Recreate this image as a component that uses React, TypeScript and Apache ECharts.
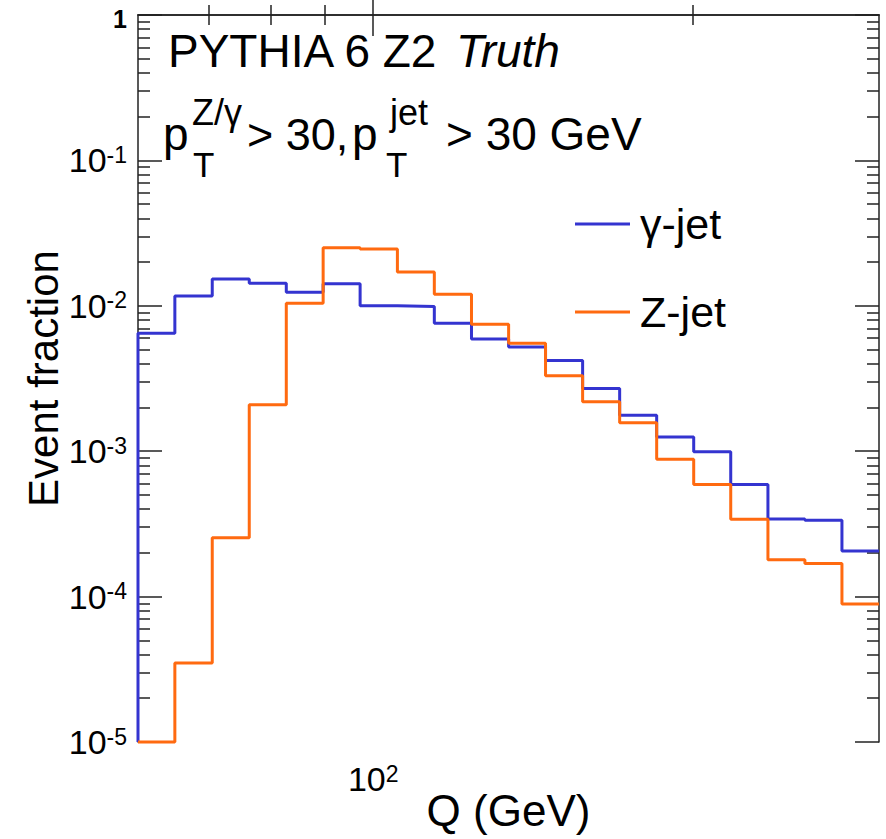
import React, { useEffect, useRef } from "react";
import * as echarts from "echarts";

// Q bin edges (GeV), 20 logarithmic bins
const binEdges = [60, 65.0, 70.5, 76.4, 82.8, 89.7, 97.2, 105.4, 114.2, 123.8, 134.2, 145.4, 157.6, 170.8, 185.1, 200.6, 217.4, 235.7, 255.4, 276.8, 300];

// Event fraction per bin
const gammaJet = [0.00647, 0.0117, 0.0153, 0.0143, 0.0124, 0.0142, 0.0100, 0.0099, 0.0076, 0.0059, 0.0052, 0.0042, 0.0027, 0.00177, 0.00125, 0.00099, 0.00059, 0.000342, 0.000335, 0.000206];
const zJet = [0, 0.000035, 0.000254, 0.00209, 0.0104, 0.0251, 0.0246, 0.0171, 0.0120, 0.00746, 0.00552, 0.0033, 0.00219, 0.00157, 0.00088, 0.00059, 0.00034, 0.000179, 0.000169, 0.000089];

const seriesNames = ["\u03b3-jet", "Z-jet"];
const seriesColors = ["#3434d0", "#ff6a10"];

// Axis ranges and ticks
const xRange = [60, 300];
const xMajorTicks = [100];
const xMinorTicks = [70, 80, 90, 200];
const yExpRange = [-5, 0];
const yMinorMultipliers = [2, 3, 4, 5, 6, 7, 8, 9];

const FONT = "'Liberation Sans', Arial, Helvetica, sans-serif";

const lg = (v: number) => Math.max(Math.log10(v), yExpRange[0]);

function histPoints(values: number[]) {
  const pts: number[][] = [[Math.log10(binEdges[0]), yExpRange[0]]];
  values.forEach((v, i) => pts.push([Math.log10(binEdges[i]), lg(v)]));
  pts.push([Math.log10(binEdges[binEdges.length - 1]), lg(values[values.length - 1])]);
  return pts;
}

export default function App() {
  const ref = useRef<HTMLDivElement>(null);
  useEffect(() => {
    if (!ref.current) return;
    const chart = echarts.init(ref.current, null, { renderer: "svg" });
    const xMin = Math.log10(xRange[0]);
    const xMax = Math.log10(xRange[1]);
    const yMinor: number[] = [];
    for (let e = yExpRange[0]; e < yExpRange[1]; e++) {
      yMinorMultipliers.forEach((k) => yMinor.push(Math.log10(k * Math.pow(10, e))));
    }
    const lineCol = "#222";
    const supRich = {
      b: { fontSize: 34, fontFamily: FONT, color: "#000" },
      s: { fontSize: 23, fontFamily: FONT, color: "#000", verticalAlign: "top" },
      one: { fontSize: 25, fontWeight: "bold", fontFamily: FONT, color: "#000", padding: [8, 0, 0, 0] },
    };
    const baseX = {
      type: "value",
      min: xMin,
      max: xMax,
      splitLine: { show: false },
    };
    const baseY = {
      type: "value",
      min: yExpRange[0],
      max: yExpRange[1],
      interval: 1,
      splitLine: { show: false },
    };
    const xMajor = xMajorTicks.map((v) => Math.log10(v));
    const xMinor = xMinorTicks.map((v) => Math.log10(v));
    const option: any = {
      animation: false,
      backgroundColor: "#fff",
      grid: { left: 138, right: 7, top: 15, bottom: 97, containLabel: false, outerBoundsMode: "none" },
      legend: {
        data: seriesNames,
        orient: "vertical",
        left: 575,
        top: 202,
        padding: 0,
        itemGap: 44,
        icon: "rect",
        itemWidth: 55,
        itemHeight: 3,
        textStyle: { fontSize: 43, fontFamily: FONT, color: "#000", lineHeight: 44, padding: [0, 0, 0, 5] },
      },
      xAxis: [
        {
          ...baseX,
          position: "bottom",
          axisLine: { show: true, lineStyle: { color: lineCol, width: 1.5 } },
          axisTick: { show: true, inside: true, length: 21, customValues: xMajor, lineStyle: { color: lineCol, width: 1.5 } },
          axisLabel: {
            show: true,
            customValues: xMajor,
            margin: 20,
            formatter: (v: number) => `{b|10}{s|${Math.round(v)}}`,
            rich: supRich,
          },
          name: "Q (GeV)",
          nameLocation: "middle",
          nameGap: 46,
          nameMoveOverlap: false,
          nameTextStyle: { fontSize: 44, fontFamily: FONT, color: "#000", verticalAlign: "top" },
        },
        {
          ...baseX,
          position: "bottom",
          axisLine: { show: false },
          axisTick: { show: true, inside: true, length: 10, customValues: xMinor, lineStyle: { color: lineCol, width: 1.5 } },
          axisLabel: { show: false },
        },
        {
          ...baseX,
          position: "top",
          axisLine: { show: true, lineStyle: { color: lineCol, width: 1.5 } },
          axisTick: { show: true, inside: true, length: 21, customValues: xMajor, lineStyle: { color: lineCol, width: 1.5 } },
          axisLabel: { show: false },
        },
        {
          ...baseX,
          position: "top",
          axisLine: { show: false },
          axisTick: { show: true, inside: true, length: 10, customValues: xMinor, lineStyle: { color: lineCol, width: 1.5 } },
          axisLabel: { show: false },
        },
      ],
      yAxis: [
        {
          ...baseY,
          position: "left",
          axisLine: { show: true, lineStyle: { color: lineCol, width: 1.5 } },
          axisTick: { show: true, inside: true, length: 24, lineStyle: { color: lineCol, width: 1.5 } },
          axisLabel: {
            show: true,
            margin: 11,
            fontSize: 32,
            fontFamily: FONT,
            color: "#000",
            formatter: (v: number) => (Math.round(v) === 0 ? "{one|1}" : `{b|10}{s|${Math.round(v)}}`),
            rich: supRich,
          },
          name: "Event fraction",
          nameLocation: "middle",
          nameRotate: 90,
          nameGap: 74,
          nameMoveOverlap: false,
          nameTextStyle: { fontSize: 42, fontFamily: FONT, color: "#000" },
        },
        {
          ...baseY,
          position: "left",
          axisLine: { show: false },
          axisTick: { show: true, inside: true, length: 12, customValues: yMinor, lineStyle: { color: lineCol, width: 1.5 } },
          axisLabel: { show: false },
        },
        {
          ...baseY,
          position: "right",
          axisLine: { show: true, lineStyle: { color: lineCol, width: 1.5 } },
          axisTick: { show: true, inside: true, length: 24, lineStyle: { color: lineCol, width: 1.5 } },
          axisLabel: { show: false },
        },
        {
          ...baseY,
          position: "right",
          axisLine: { show: false },
          axisTick: { show: true, inside: true, length: 12, customValues: yMinor, lineStyle: { color: lineCol, width: 1.5 } },
          axisLabel: { show: false },
        },
      ],
      series: [gammaJet, zJet].map((vals, i) => ({
        name: seriesNames[i],
        type: "line",
        step: "end",
        xAxisIndex: 0,
        yAxisIndex: 0,
        data: histPoints(vals),
        showSymbol: false,
        symbol: "none",
        clip: false,
        color: seriesColors[i],
        lineStyle: { color: seriesColors[i], width: 3 },
        z: 3,
      })),
      graphic: [
        { type: "text", x: 168, y: 51, style: { text: "PYTHIA 6 Z2", fontSize: 46, fontFamily: FONT, fill: "#000", align: "left", verticalAlign: "middle" } },
        { type: "text", x: 456, y: 51, style: { text: "Truth", fontSize: 46, fontStyle: "italic", fontFamily: FONT, fill: "#000", align: "left", verticalAlign: "middle" } },
        { type: "text", x: 163, y: 134, style: { text: "p", fontSize: 46, fontFamily: FONT, fill: "#000", align: "left", verticalAlign: "middle" } },
        { type: "text", x: 192, y: 112, style: { text: "Z/\u03b3", fontSize: 36, fontFamily: FONT, fill: "#000", align: "left", verticalAlign: "middle" } },
        { type: "text", x: 193, y: 164, style: { text: "T", fontSize: 35, fontFamily: FONT, fill: "#000", align: "left", verticalAlign: "middle" } },
        { type: "text", x: 247, y: 134, style: { text: "> 30,", fontSize: 45, fontFamily: FONT, fill: "#000", align: "left", verticalAlign: "middle" } },
        { type: "text", x: 352, y: 134, style: { text: "p", fontSize: 46, fontFamily: FONT, fill: "#000", align: "left", verticalAlign: "middle" } },
        { type: "text", x: 390, y: 112, style: { text: "jet", fontSize: 36, fontFamily: FONT, fill: "#000", align: "left", verticalAlign: "middle" } },
        { type: "text", x: 386, y: 164, style: { text: "T", fontSize: 35, fontFamily: FONT, fill: "#000", align: "left", verticalAlign: "middle" } },
        { type: "text", x: 446, y: 134, style: { text: "> 30 GeV", fontSize: 46, fontFamily: FONT, fill: "#000", align: "left", verticalAlign: "middle" } },
      ],
    };
    chart.setOption(option);
    return () => chart.dispose();
  }, []);
  return (
    <div
      ref={ref}
      style={{ position: "absolute", left: 0, top: 0, width: 886, height: 839, background: "#fff" }}
    />
  );
}
